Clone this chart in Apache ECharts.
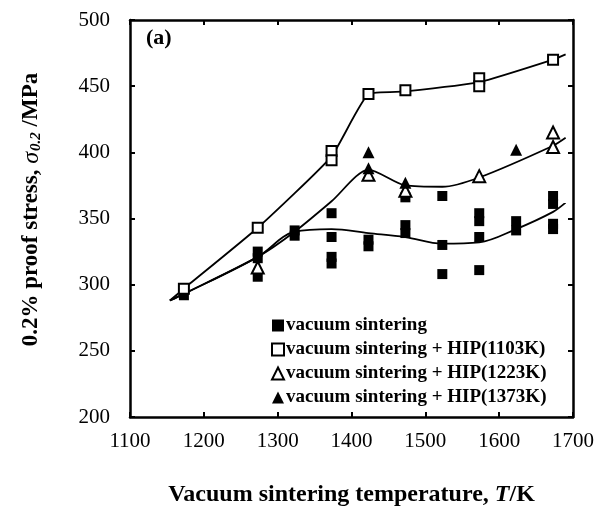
<!DOCTYPE html>
<html>
<head>
<meta charset="utf-8">
<script src="https://cdn.jsdelivr.net/npm/echarts@6/dist/echarts.min.js"></script>
<style>
  html, body { margin: 0; padding: 0; background: #fff; }
  #chart { width: 601px; height: 512px; }
</style>
</head>
<body>
<div id="chart"></div>
<script>
// Measured 0.2% proof stress (MPa) versus vacuum sintering temperature (K)
const vacuumSintering = [
  [1173, 296], [1173, 292],
  [1273, 325], [1273, 320], [1273, 306],
  [1323, 341], [1323, 337],
  [1373, 354], [1373, 336], [1373, 321], [1373, 316],
  [1423, 334], [1423, 329],
  [1473, 366], [1473, 345], [1473, 339],
  [1523, 367], [1523, 330], [1523, 308],
  [1573, 354], [1573, 348], [1573, 336], [1573, 311],
  [1623, 348], [1623, 341],
  [1673, 367], [1673, 361], [1673, 346], [1673, 342]
];
const hip1103 = [
  [1173, 297], [1273, 343], [1373, 401], [1373, 394], [1423, 444],
  [1473, 447], [1573, 456], [1573, 450], [1673, 470]
];
const hip1223 = [
  [1273, 313], [1423, 383], [1473, 371], [1573, 382], [1673, 415], [1673, 404]
];
const hip1373 = [
  [1423, 400], [1423, 388], [1473, 377], [1623, 402]
];

// Fitted trend curves
const curveHip1103 = [
  [1154, 288], [1173, 297], [1273, 343], [1373, 397],
  [1423, 444], [1473, 446], [1573, 453], [1673, 470], [1690, 474]
];
const curveHip = [
  [1154, 288], [1173, 293], [1273, 321], [1323, 340], [1373, 363],
  [1423, 387], [1473, 375], [1523, 374], [1573, 381], [1673, 405], [1690, 411]
];
const curveVacuum = [
  [1154, 288], [1173, 293], [1273, 321], [1323, 340], [1373, 342],
  [1423, 339], [1473, 336], [1523, 331], [1573, 332], [1623, 342], [1673, 355], [1690, 362]
];

const xTicks = [1100, 1200, 1300, 1400, 1500, 1600, 1700];
const yTicks = [200, 250, 300, 350, 400, 450, 500];

const serif = '"Liberation Serif", "DejaVu Serif", serif';
const black = '#000';

const chart = echarts.init(document.getElementById('chart'), null, { renderer: 'canvas' });

function markSeries(name, data, symbol, filled) {
  return {
    name: name,
    type: 'scatter',
    data: data,
    symbol: symbol,
    symbolSize: symbol === 'triangle' ? 12 : 10,
    itemStyle: {
      color: filled ? black : '#fff',
      borderColor: black,
      borderWidth: filled ? 0 : 2,
      opacity: 1
    },
    z: 5
  };
}

function curveSeries(data, smooth) {
  return {
    type: 'line',
    data: data,
    smooth: smooth,
    showSymbol: false,
    symbol: 'none',
    lineStyle: { color: black, width: 1.8 },
    silent: true,
    z: 3
  };
}

const axisCommon = {
  axisLine: { show: true, onZero: false, lineStyle: { color: black, width: 2.5 } },
  axisTick: { show: true, inside: true, length: 5, lineStyle: { color: black, width: 2 } },
  splitLine: { show: false }
};

chart.setOption({
  animation: false,
  backgroundColor: '#fff',
  grid: { left: 130, right: 28, top: 20, bottom: 94 },
  xAxis: [
    Object.assign({
      type: 'value', min: xTicks[0], max: xTicks[xTicks.length - 1], interval: 100,
      name: '{b|Vacuum sintering temperature, }{i|T}{b|/K}',
      nameLocation: 'middle', nameGap: 66,
      nameTextStyle: {
        rich: {
          b: { fontFamily: serif, fontWeight: 'bold', fontSize: 24, color: black },
          i: { fontFamily: serif, fontWeight: 'bold', fontStyle: 'italic', fontSize: 24, color: black }
        }
      },
      axisLabel: { margin: 14, fontFamily: serif, fontSize: 21, color: black, formatter: v => String(v) }
    }, axisCommon),
    Object.assign({
      type: 'value', position: 'top', min: xTicks[0], max: xTicks[xTicks.length - 1], interval: 100,
      axisLabel: { show: false }
    }, axisCommon)
  ],
  yAxis: [
    Object.assign({
      type: 'value', min: yTicks[0], max: yTicks[yTicks.length - 1], interval: 50,
      name: '{b|0.2% proof stress, }{i|σ}{s|0.2}{b| /MPa}',
      nameLocation: 'middle', nameGap: 86, nameRotate: 90,
      nameTextStyle: {
        padding: [0, 0, 0, 18],
        rich: {
          b: { fontFamily: serif, fontWeight: 'bold', fontSize: 23, color: black },
          i: { fontFamily: serif, fontStyle: 'italic', fontSize: 24, color: black },
          s: { fontFamily: serif, fontStyle: 'italic', fontWeight: 'bold', fontSize: 15, color: black, verticalAlign: 'bottom', padding: [10, 0, 0, 1] }
        }
      },
      axisLabel: { margin: 20, fontFamily: serif, fontSize: 21, color: black }
    }, axisCommon),
    Object.assign({
      type: 'value', position: 'right', min: yTicks[0], max: yTicks[yTicks.length - 1], interval: 50,
      axisLabel: { show: false }
    }, axisCommon)
  ],
  legend: {
    orient: 'vertical',
    left: 266,
    top: 311,
    itemWidth: 12,
    itemHeight: 12,
    itemGap: 5,
    textStyle: { fontFamily: serif, fontWeight: 'bold', fontSize: 19, color: black, padding: [0, 0, 0, -3] },
    data: [
      { name: 'vacuum sintering', icon: 'rect' },
      { name: 'vacuum sintering + HIP(1103K)', icon: 'rect' },
      { name: 'vacuum sintering + HIP(1223K)', icon: 'triangle' },
      { name: 'vacuum sintering + HIP(1373K)', icon: 'triangle' }
    ]
  },
  graphic: [
    {
      type: 'text', left: 146, top: 27,
      style: { text: '(a)', font: 'bold 22px ' + serif, fill: black }
    }
  ],
  series: [
    curveSeries(curveHip1103, 0.15),
    curveSeries(curveHip, 0.25),
    curveSeries(curveVacuum, 0.35),
    markSeries('vacuum sintering', vacuumSintering, 'rect', true),
    markSeries('vacuum sintering + HIP(1103K)', hip1103, 'rect', false),
    markSeries('vacuum sintering + HIP(1223K)', hip1223, 'triangle', false),
    markSeries('vacuum sintering + HIP(1373K)', hip1373, 'triangle', true)
  ]
});
</script>
</body>
</html>
